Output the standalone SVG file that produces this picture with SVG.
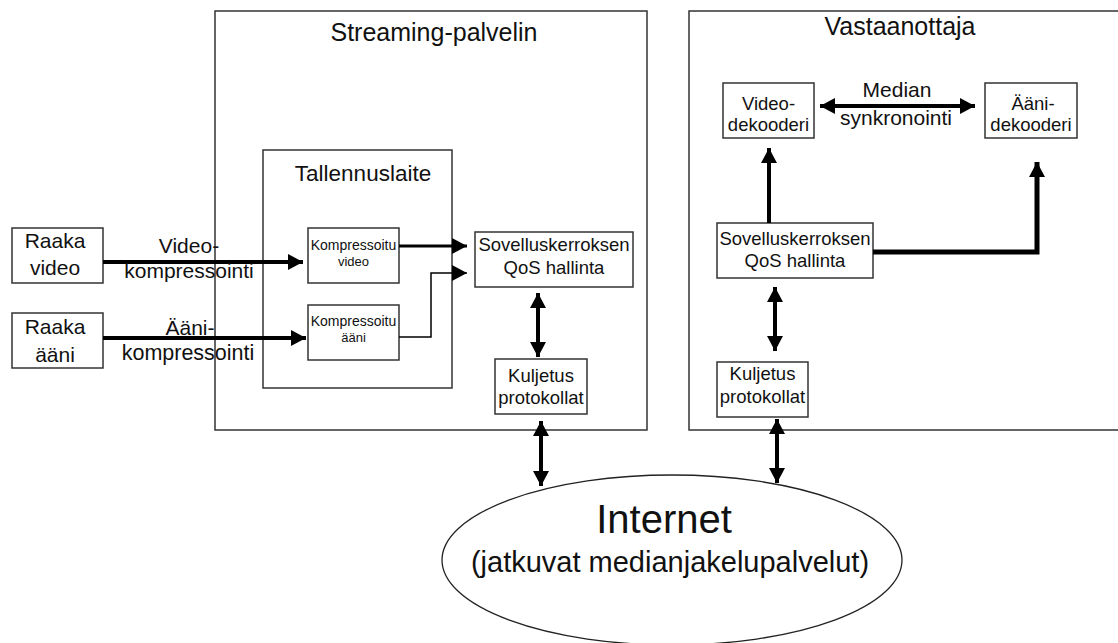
<svg xmlns="http://www.w3.org/2000/svg" width="1118" height="643" viewBox="0 0 1118 643">
  <style>
    .box { fill: none; stroke: #333; stroke-width: 1.5; }
    .node { fill: #fff; stroke: #333; stroke-width: 1.5; }
    .t { font-family: "Liberation Sans", Arial, sans-serif; fill: #111; text-anchor: middle; }
    .wire { fill: none; stroke: #000; stroke-linejoin: miter; }
  </style>
  <defs>
    <marker id="head" markerUnits="userSpaceOnUse" markerWidth="16" markerHeight="16" refX="15" refY="8" orient="auto-start-reverse">
      <path d="M0,0 L15,8 L0,16 Z" fill="#000"/>
    </marker>
  </defs>

  <!-- containers -->
  <g id="server">
    <rect class="box" x="215" y="11" width="432" height="419"/>
    <text class="t" x="434" y="41" font-size="25">Streaming-palvelin</text>
  </g>
  <g id="receiver">
    <rect class="box" x="689" y="11" width="440" height="419"/>
    <text class="t" x="900" y="35" font-size="25">Vastaanottaja</text>
  </g>
  <g id="recorder">
    <rect class="box" x="263" y="150" width="189" height="238"/>
    <text class="t" x="363" y="181" font-size="22.5">Tallennuslaite</text>
  </g>

  <!-- sources -->
  <g id="raw-video">
    <rect class="node" x="12" y="228" width="91" height="55"/>
    <text class="t" x="55" y="248" font-size="21">Raaka</text>
    <text class="t" x="55" y="275" font-size="21">video</text>
  </g>
  <g id="raw-audio">
    <rect class="node" x="12" y="313" width="91" height="55"/>
    <text class="t" x="55" y="334" font-size="21">Raaka</text>
    <text class="t" x="55" y="362" font-size="21">ääni</text>
  </g>

  <!-- recorder contents -->
  <g id="comp-video">
    <rect class="node" x="308" y="228" width="91" height="55"/>
    <text class="t" x="353.5" y="250" font-size="14">Kompressoitu</text>
    <text class="t" x="353.5" y="266" font-size="13">video</text>
  </g>
  <g id="comp-audio">
    <rect class="node" x="308" y="305" width="91" height="55"/>
    <text class="t" x="353.5" y="326" font-size="14">Kompressoitu</text>
    <text class="t" x="353.5" y="342" font-size="13">ääni</text>
  </g>

  <!-- server stack -->
  <g id="server-qos">
    <rect class="node" x="475" y="232" width="158" height="55"/>
    <text class="t" x="554" y="251" font-size="18.5">Sovelluskerroksen</text>
    <text class="t" x="554" y="274" font-size="18.5">QoS hallinta</text>
  </g>
  <g id="server-transport">
    <rect class="node" x="495" y="359" width="92" height="55"/>
    <text class="t" x="541" y="382" font-size="18.5">Kuljetus</text>
    <text class="t" x="541" y="404" font-size="18.5">protokollat</text>
  </g>

  <!-- receiver stack -->
  <g id="video-decoder">
    <rect class="node" x="723" y="83" width="91" height="55"/>
    <text class="t" x="768.5" y="110" font-size="18.5">Video-</text>
    <text class="t" x="768.5" y="131" font-size="18.5">dekooderi</text>
  </g>
  <g id="audio-decoder">
    <rect class="node" x="985" y="83" width="92" height="55"/>
    <text class="t" x="1033" y="110" font-size="18.5">Ääni-</text>
    <text class="t" x="1031" y="131" font-size="18.5">dekooderi</text>
  </g>
  <g id="receiver-qos">
    <rect class="node" x="717" y="223" width="156" height="55"/>
    <text class="t" x="795" y="245" font-size="18.5">Sovelluskerroksen</text>
    <text class="t" x="795" y="267" font-size="18.5">QoS hallinta</text>
  </g>
  <g id="receiver-transport">
    <rect class="node" x="717" y="362" width="91" height="55"/>
    <text class="t" x="762.5" y="380" font-size="18.5">Kuljetus</text>
    <text class="t" x="762.5" y="403" font-size="18.5">protokollat</text>
  </g>

  <!-- network -->
  <g id="internet">
    <ellipse cx="672" cy="560" rx="230" ry="85" fill="none" stroke="#222" stroke-width="1.3"/>
    <text class="t" x="664" y="533" font-size="40">Internet</text>
    <text class="t" x="670" y="572" font-size="29">(jatkuvat medianjakelupalvelut)</text>
  </g>

  <!-- connectors -->
  <g id="connectors">
    <line class="wire" x1="103" y1="262" x2="303" y2="262" stroke-width="4" marker-end="url(#head)"/>
    <line class="wire" x1="103" y1="338" x2="306" y2="338" stroke-width="4" marker-end="url(#head)"/>
    <line class="wire" x1="399" y1="246" x2="467" y2="246" stroke-width="3" marker-end="url(#head)"/>
    <polyline class="wire" points="399,337 431,337 431,273 467,273" stroke-width="1.5" marker-end="url(#head)"/>
    <line class="wire" x1="538" y1="293" x2="538" y2="357" stroke-width="4" marker-start="url(#head)" marker-end="url(#head)"/>
    <line class="wire" x1="541" y1="421" x2="541" y2="486" stroke-width="4" marker-start="url(#head)" marker-end="url(#head)"/>
    <line class="wire" x1="775" y1="287" x2="775" y2="351" stroke-width="4" marker-start="url(#head)" marker-end="url(#head)"/>
    <line class="wire" x1="777" y1="419" x2="777" y2="483" stroke-width="4" marker-start="url(#head)" marker-end="url(#head)"/>
    <line class="wire" x1="769" y1="223" x2="769" y2="148" stroke-width="4" marker-end="url(#head)"/>
    <polyline class="wire" points="873,252 1037,252 1037,162" stroke-width="5" marker-end="url(#head)"/>
    <line class="wire" x1="820" y1="106" x2="975" y2="106" stroke-width="4" marker-start="url(#head)" marker-end="url(#head)"/>
    <text class="t" x="189" y="253" font-size="21">Video-</text>
    <text class="t" x="189" y="278" font-size="21">kompressointi</text>
    <text class="t" x="190" y="335" font-size="21">Ääni-</text>
    <text class="t" x="188" y="360" font-size="21.5">kompressointi</text>
    <text class="t" x="897" y="97" font-size="21">Median</text>
    <text class="t" x="896" y="125" font-size="21">synkronointi</text>
  </g>
</svg>
